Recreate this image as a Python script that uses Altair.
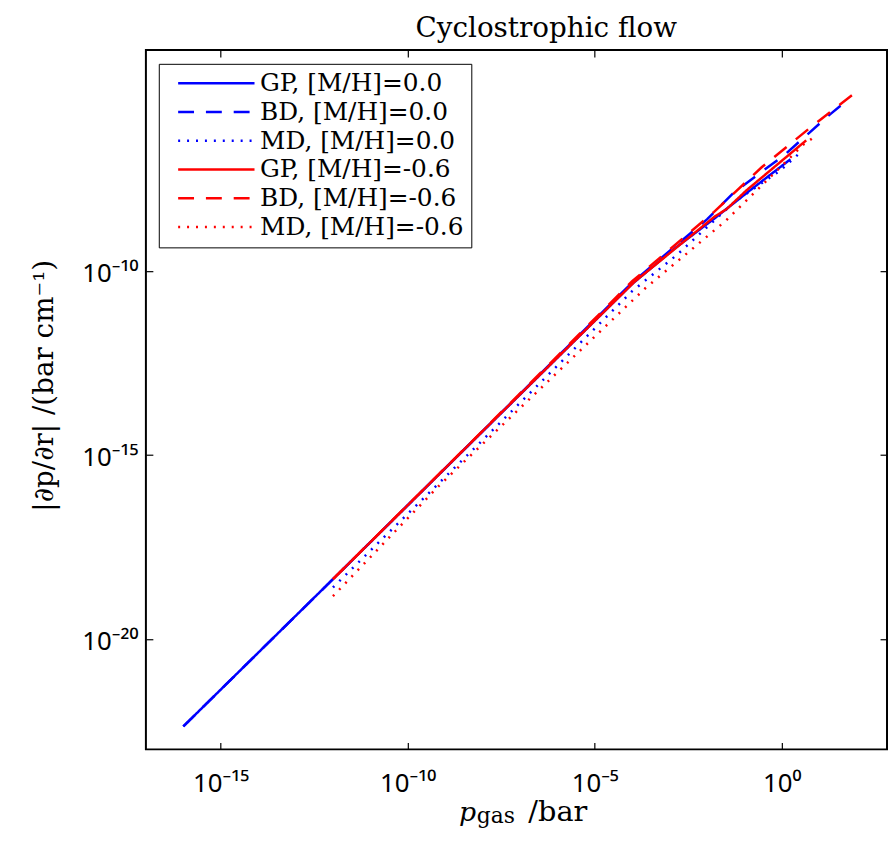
import altair as alt
import pandas as pd

# ---------------- data ----------------
series_names = ["GP, [M/H]=0.0", "BD, [M/H]=0.0", "MD, [M/H]=0.0",
                "GP, [M/H]=-0.6", "BD, [M/H]=-0.6", "MD, [M/H]=-0.6"]
series_colors = ["#0000ff", "#0000ff", "#0000ff", "#ff0000", "#ff0000", "#ff0000"]
series_dashes = [[1, 0], [16, 12], [2, 7], [1, 0], [16, 12], [2, 7]]
series_widths = [2.5, 2.5, 2, 2.5, 2.5, 2]

# p_gas / bar  and |dp/dr| / (bar cm^-1)
gp_00_p = [1e-16, 1e-12, 1e-8, 1e-4, 1.35e-3, 1.55e-2, 0.126, 1.7]
gp_00_g = [4.2e-23, 4.2e-19, 4.3e-15, 4.4e-11, 4.0e-10, 2.6e-9, 1.4e-8, 1.07e-7]

bd_00_p = [1e-16, 1e-12, 1e-8, 1e-4, 1e-2, 5.4e-2, 1.15, 19.5, 47]
bd_00_g = [4.2e-23, 4.2e-19, 4.4e-15, 4.8e-11, 2.5e-9, 1.38e-8, 1.38e-7, 1.78e-6, 3.7e-6]

md_00_p = [1e-12, 1e-8, 1e-4, 1.6e-3, 5.4e-2, 0.93, 2.8]
md_00_g = [2.5e-19, 2.5e-15, 2.8e-11, 2.75e-10, 7.4e-9, 5.4e-8, 1.48e-7]

gp_06_p = [1e-12, 1e-8, 1.17e-4, 1.55e-2, 3.4e-2, 0.115, 4.5]
gp_06_g = [4.2e-19, 4.4e-15, 5.1e-11, 2.9e-9, 4.8e-9, 1.55e-8, 3.5e-7]

bd_06_p = [1e-12, 1e-8, 1e-4, 1.55e-2, 0.29, 5.8, 115]
bd_06_g = [4.2e-19, 4.5e-15, 5.2e-11, 4.0e-9, 6.5e-8, 7.8e-7, 8.3e-6]

md_06_p = [1e-12, 3.3e-11, 7.1e-10, 1e-6, 2.2e-4, 3.2e-2, 3.8, 7.1]
md_06_g = [1.45e-19, 5.9e-18, 1.5e-16, 1.74e-13, 3.3e-11, 2.3e-9, 2.7e-7, 4.2e-7]

x_domain = [1e-17, 6.5e2]
y_domain = [1e-23, 1e-4]
x_tick_values = [1e-15, 1e-10, 1e-5, 1.0]
x_tick_exps = [-15, -10, -5, 0]
x_tick_labels = ["10\u207b\u00b9\u2075", "10\u207b\u00b9\u2070", "10\u207b\u2075", "10\u2070"]
y_tick_values = [1e-20, 1e-15, 1e-10]
y_tick_exps = [-20, -15, -10]
y_tick_labels = ["10\u207b\u00b2\u2070", "10\u207b\u00b9\u2075", "10\u207b\u00b9\u2070"]

rows = []
for name, ps, gs in zip(series_names,
                        [gp_00_p, bd_00_p, md_00_p, gp_06_p, bd_06_p, md_06_p],
                        [gp_00_g, bd_00_g, md_00_g, gp_06_g, bd_06_g, md_06_g]):
    for i, (p, g) in enumerate(zip(ps, gs)):
        rows.append({"series": name, "p": p, "g": g, "i": i})
df = pd.DataFrame(rows)
blue_df = df[df["series"].isin(series_names[:3])]
red_df = df[df["series"].isin(series_names[3:])]


def label_expr(exps, labels):
    e = "round(log(datum.value)/LN10)"
    expr = "''"
    for ex, lab in reversed(list(zip(exps, labels))):
        expr = f"{e} == {ex} ? '{lab}' : ({expr})"
    return expr


x_scale = alt.Scale(type="log", domain=x_domain, nice=False)
y_scale = alt.Scale(type="log", domain=y_domain, nice=False)

legend = alt.Legend(
    title=None, orient="none", legendX=13, legendY=14,
    strokeColor="black", fillColor="white", padding=7, cornerRadius=0,
    symbolType="M0,0H10", symbolSize=237, symbolStrokeWidth=2,
    labelFont="DejaVu Serif", labelFontSize=25, labelColor="black",
    labelOffset=70, labelLimit=500, rowPadding=3,
)

color_enc = alt.Color("series:N", scale=alt.Scale(domain=series_names, range=series_colors), legend=legend)
dash_enc = alt.StrokeDash("series:N", scale=alt.Scale(domain=series_names, range=series_dashes), legend=legend)
width_enc = alt.StrokeWidth("series:N", scale=alt.Scale(domain=series_names, range=series_widths), legend=None)

tick_font = dict(labelFont="Noto Sans", labelFontSize=26, labelColor="black",
                 tickColor="black", tickWidth=1.2, domain=False, grid=False,
                 titleColor="black", titleFontWeight="normal")

x_axis_main = alt.Axis(
    values=x_tick_values, labelExpr=label_expr(x_tick_exps, x_tick_labels),
    orient="bottom", offset=-7, tickSize=7,
    labelBaseline="alphabetic", labelPadding=42, labelFlush=False,
    title="p", titleFont="DejaVu Serif", titleFontStyle="italic", titleFontSize=27,
    titleX=315, titleY=79, titleAlign="left", titleBaseline="alphabetic",
    **tick_font,
)
y_axis_main = alt.Axis(
    values=y_tick_values, labelExpr=label_expr(y_tick_exps, y_tick_labels),
    orient="left", offset=-7, tickSize=7,
    labelBaseline="alphabetic", labelOffset=11, labelPadding=8, labelAlign="right",
    title="|\u2202p/\u2202r| /(bar cm\u207b\u00b9)", titleFont="DejaVu Serif", titleFontSize=28,
    titleAngle=270, titleX=-101, titleY=338, titleAlign="center", titleBaseline="alphabetic",
    **tick_font,
)
x_axis_top = alt.Axis(
    values=x_tick_values, orient="top", offset=-7, tickSize=7, labels=False,
    title="gas", titleFont="DejaVu Serif", titleFontSize=22,
    titleX=333, titleY=772, titleAlign="left", titleBaseline="alphabetic", titleAngle=0,
    **tick_font,
)
y_axis_right = alt.Axis(
    values=y_tick_values, orient="right", offset=-7, tickSize=7, labels=False,
    title="/bar", titleFont="DejaVu Serif", titleFontSize=29,
    titleX=-355, titleY=777, titleAlign="left", titleBaseline="alphabetic", titleAngle=0,
    **tick_font,
)

blue = alt.Chart(blue_df).mark_line().encode(
    x=alt.X("p:Q", scale=x_scale, axis=x_axis_main),
    y=alt.Y("g:Q", scale=y_scale, axis=y_axis_main),
    color=color_enc, strokeDash=dash_enc, strokeWidth=width_enc,
    order="i:Q",
)
red = alt.Chart(red_df).mark_line().encode(
    x=alt.X("p:Q", scale=x_scale, axis=x_axis_top),
    y=alt.Y("g:Q", scale=y_scale, axis=y_axis_right),
    color=color_enc, strokeDash=dash_enc, strokeWidth=width_enc,
    order="i:Q",
)

chart = alt.layer(blue, red).resolve_axis(x="independent", y="independent").properties(
    width=747, height=705,
    title=alt.Title("Cyclostrophic flow", font="DejaVu Serif", fontSize=28, fontWeight="normal",
                    anchor="middle", frame="group", orient="top", dx=30, offset=6, color="black"),
    autosize=alt.AutoSizeParams(type="none"),
    padding={"left": 139, "top": 39, "right": 1, "bottom": 78},
).configure_view(stroke="black", strokeWidth=2)

chart.save("out.html", embed_options={"renderer": "svg", "actions": False})
